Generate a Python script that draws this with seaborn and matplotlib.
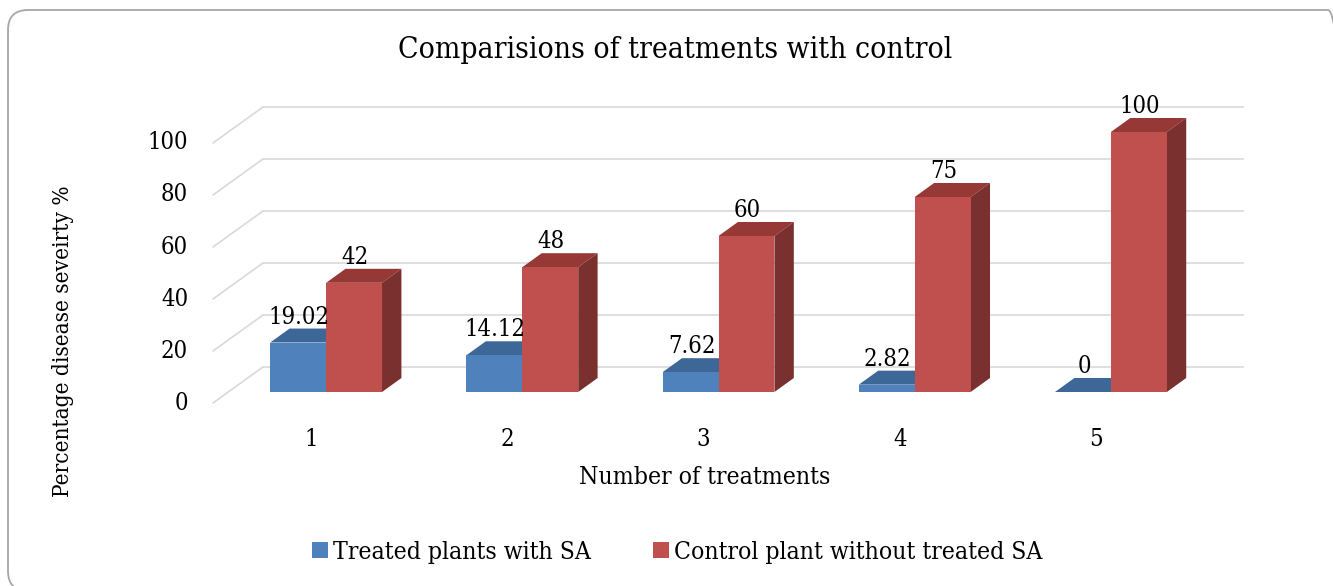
import numpy as np
import pandas as pd
import matplotlib
matplotlib.use("Agg")
import matplotlib.pyplot as plt
import seaborn as sns
from matplotlib.patches import Polygon, FancyBboxPatch, Patch
from matplotlib.transforms import IdentityTransform
from matplotlib import font_manager as fm

# ---------------- data ----------------
treatments = ["1", "2", "3", "4", "5"]
treated = [19.02, 14.12, 7.62, 2.82, 0]
control = [42, 48, 60, 75, 100]
series_names = ["Treated plants with SA", "Control plant without treated SA"]
yticks = [0, 20, 40, 60, 80, 100]
title = "Comparisions of treatments with control"
xlabel = "Number of treatments"
ylabel = "Percentage disease seveirty %"

# ---------------- style ----------------
W, H = 1333, 586
sns.set_theme(style="white")
plt.rcParams["font.family"] = ["DejaVu Serif", "DejaVu Sans"]
plt.rcParams["font.stretch"] = "condensed"
plt.rcParams["text.color"] = "black"
front_c = ["#4f81bd", "#c0504d"]
top_c = ["#3d6796", "#953836"]
side_c = ["#30557f", "#7a302e"]
grid_c = "#d9d9d9"

print([f.name + " " + str(f.stretch) for f in fm.fontManager.ttflist if "DejaVu Serif" in f.name])

fig = plt.figure(figsize=(W / 100, H / 100), dpi=100)
fig.patch.set_facecolor("white")
ax = fig.add_axes([228 / W, 1 - 392 / H, 981 / W, 260 / H])

df = pd.DataFrame({
    "treatment": treatments * 2,
    "value": treated + control,
    "series": [series_names[0]] * len(treated) + [series_names[1]] * len(control),
})
sns.barplot(data=df, x="treatment", y="value", hue="series", hue_order=series_names,
            palette=front_c, width=0.57, saturation=1, ax=ax, legend=False,
            linewidth=0, zorder=3)
ax.set_xlim(-0.5, len(treatments) - 0.5)
ax.set_ylim(0, 100)
ax.axis("off")

fig.canvas.draw()
renderer = fig.canvas.get_renderer()
bb = ax.get_window_extent(renderer)
x0l, x1l = ax.get_xlim()
y0l, y1l = ax.get_ylim()
PX = (x1l - x0l) / bb.width   # data x per pixel
PY = (y1l - y0l) / bb.height  # data y per pixel

def measure(txt, size, rot=0):
    t = fig.text(0, 0, txt, fontsize=size, rotation=rot)
    e = t.get_window_extent(renderer)
    t.remove()
    return e.width if rot == 0 else e.height

def fit(txt, target, rot=0):
    return 15 * target / measure(txt, 15, rot)

# 3D geometry (pixels)
DX, DY = 19.4, 14.0          # bar depth
BX, BY = 35.0, 25.0          # back wall offset from bar plane
FX, FY = -15.0, -11.0        # front edge offset from bar plane

# back-wall gridlines + left diagonals
for v in yticks:
    ax.plot([x0l + BX * PX, x1l + BX * PX], [v + BY * PY, v + BY * PY],
            color=grid_c, lw=1.2, clip_on=False, zorder=1, solid_capstyle="butt")
    ax.plot([x0l + FX * PX, x0l + BX * PX], [v + FY * PY, v + BY * PY],
            color=grid_c, lw=1.2, clip_on=False, zorder=1)

# 3D faces of the bars
lab_fs = fit("100", 41)
for si, cont in enumerate(ax.containers):
    for bar in cont:
        xa = bar.get_x()
        xb = xa + bar.get_width()
        h = bar.get_height()
        dx, dy = DX * PX, DY * PY
        topf = Polygon([(xa, h), (xb, h), (xb + dx, h + dy), (xa + dx, h + dy)],
                       closed=True, fc=top_c[si], ec="none", zorder=2, clip_on=False)
        ax.add_patch(topf)
        if si == len(ax.containers) - 1:
            sidef = Polygon([(xb, 0), (xb, h), (xb + dx, h + dy), (xb + dx, dy)],
                            closed=True, fc=side_c[si], ec="none", zorder=2, clip_on=False)
            ax.add_patch(sidef)
        ax.text((xa + xb) / 2 + 1 * PX, h + dy, f"{h:g}", ha="center", va="bottom",
                fontsize=lab_fs, color="black", zorder=5, clip_on=False)

# y tick labels on front edge
for v in yticks:
    ax.text(x0l + (FX - 25) * PX, v + FY * PY, str(v), ha="right", va="center",
            fontsize=lab_fs, color="black", clip_on=False)

# x tick labels
for i, t in enumerate(treatments):
    ax.text(i + FX * PX, 0 + (FY - 36) * PY, t, ha="center", va="center",
            fontsize=lab_fs, color="black", clip_on=False)

# title and axis labels
fig.text(675 / W, 1 - 50 / H, title, ha="center", va="center",
         fontsize=fit(title, 552), color="black")
fig.text(705 / W, 1 - 477 / H, xlabel, ha="center", va="center",
         fontsize=fit(xlabel, 251), color="black")
fig.text(63 / W, 1 - 341 / H, ylabel, ha="center", va="center", rotation=90,
         fontsize=fit(ylabel, 312, rot=90), color="black")

# legend
leg_fs = fit(series_names[0], 257)
em = leg_fs * 100 / 72
leg = fig.legend(handles=[Patch(fc=front_c[0], ec="none"), Patch(fc=front_c[1], ec="none")],
                 labels=series_names, loc="center", bbox_to_anchor=(677 / W, 1 - 552 / H),
                 ncol=2, frameon=False, fontsize=leg_fs, handlelength=16 / em,
                 handleheight=16 / em, handletextpad=5 / em, columnspacing=62 / em,
                 borderpad=0)
for t in leg.get_texts():
    t.set_color("black")

# rounded chart border (extends past right and bottom edges)
fig.add_artist(FancyBboxPatch((8, -5), 1340, 581, boxstyle="round,pad=0,rounding_size=20",
                              transform=IdentityTransform(), fc="none", ec="#a6a6a6", lw=1.3))

fig.savefig("out.png", dpi=100, facecolor="white")
